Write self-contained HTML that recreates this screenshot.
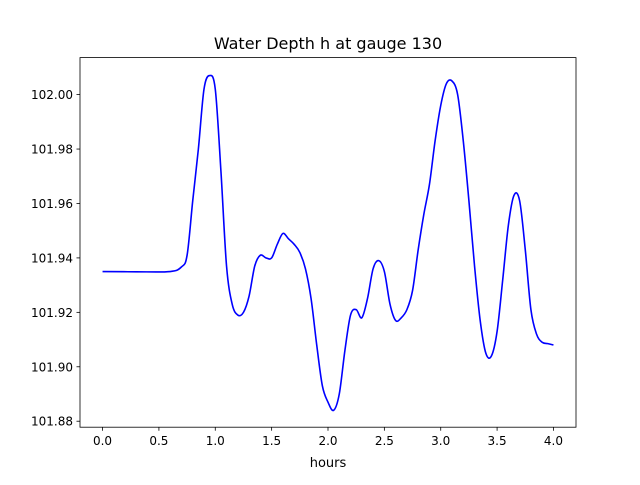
<!DOCTYPE html>
<html><head><meta charset="utf-8"><style>
body{margin:0;background:#fff}
svg text{font-family:"DejaVu Sans","Liberation Sans",sans-serif;fill:#000}
</style></head><body>
<svg id="chart" width="640" height="480">
<rect width="640" height="480" fill="#fff"/>
<text x="328" y="49" font-size="16" text-anchor="middle">Water Depth h at gauge 130</text>
<g id="plot"></g>
<rect x="80" y="57.6" width="496" height="369.6" fill="none" stroke="#000" stroke-width="0.8"/>
<text x="328" y="467" font-size="13" text-anchor="middle">hours</text>
</svg>
<script>
const times=[0,0.3,0.6,0.7,0.75,0.8,0.85,0.9,0.95,1.0,1.05,1.1,1.15,1.2,1.25,1.3,1.35,1.4,1.45,1.5,1.55,1.6,1.65,1.7,1.75,1.8,1.85,1.9,1.95,2.0,2.05,2.1,2.15,2.2,2.25,2.3,2.35,2.4,2.45,2.5,2.55,2.6,2.65,2.7,2.75,2.8,2.85,2.9,2.95,3.0,3.05,3.1,3.15,3.2,3.25,3.3,3.35,3.4,3.45,3.5,3.55,3.6,3.65,3.7,3.75,3.8,3.85,3.9,3.95,4.0];
const depth=[101.935,101.9349,101.935,101.9367,101.941,101.961,101.98,102.002,102.007,102.002,101.972,101.937,101.923,101.919,101.92,101.926,101.937,101.941,101.94,101.94,101.945,101.949,101.947,101.945,101.942,101.936,101.925,101.908,101.893,101.887,101.884,101.89,101.906,101.919,101.921,101.918,101.925,101.936,101.939,101.935,101.923,101.917,101.918,101.921,101.928,101.943,101.956,101.967,101.983,101.996,102.004,102.005,102.0,101.983,101.961,101.937,101.917,101.905,101.904,101.913,101.932,101.952,101.963,101.961,101.943,101.921,101.912,101.909,101.9085,101.908];
const xTicks=[0,0.5,1,1.5,2,2.5,3,3.5,4];
const xTickLabels=["0.0","0.5","1.0","1.5","2.0","2.5","3.0","3.5","4.0"];
const yTicks=[101.88,101.90,101.92,101.94,101.96,101.98,102.00];
const yTickLabels=["101.88","101.90","101.92","101.94","101.96","101.98","102.00"];
const NS="http://www.w3.org/2000/svg";
const X0=80,X1=576,Y0=57.6,Y1=427.2;
const xmin=-0.2,xmax=4.2,ymin=101.8778,ymax=102.0136;
const sx=v=>X0+(v-xmin)/(xmax-xmin)*(X1-X0);
const sy=v=>Y1-(v-ymin)/(ymax-ymin)*(Y1-Y0);
const g=document.getElementById('plot');
function mk(t,a){const e=document.createElementNS(NS,t);for(const k in a)e.setAttribute(k,a[k]);g.appendChild(e);return e;}
xTicks.forEach((v,i)=>{
  const l=mk('line',{x1:sx(v),x2:sx(v),y1:Y1,y2:Y1+3.5,stroke:'#000','stroke-width':0.8});
  
  
  const t=mk('text',{x:sx(v),y:Y1+18,'font-size':12,'text-anchor':'middle'});
  t.textContent=xTickLabels[i];
  
  
});
yTicks.forEach((v,i)=>{
  const l=mk('line',{x1:X0-3.5,x2:X0,y1:sy(v),y2:sy(v),stroke:'#000','stroke-width':0.8});
  
  
  const t=mk('text',{x:X0-7,y:sy(v)+4.5,'font-size':12,'text-anchor':'end'});
  t.textContent=yTickLabels[i];
  
  
});
const pts=times.map((t,i)=>[sx(t),sy(depth[i])]);
let d='M'+pts[0][0]+','+pts[0][1];
for(let i=0;i<pts.length-1;i++){
  const p0=pts[Math.max(i-1,0)],p1=pts[i],p2=pts[i+1],p3=pts[Math.min(i+2,pts.length-1)];
  const c1=[p1[0]+(p2[0]-p0[0])/6,p1[1]+(p2[1]-p0[1])/6];
  const c2=[p2[0]-(p3[0]-p1[0])/6,p2[1]-(p3[1]-p1[1])/6];
  d+=`C${c1[0]},${c1[1]} ${c2[0]},${c2[1]} ${p2[0]},${p2[1]}`;
}
const line=mk('path',{d:d,fill:'none',stroke:'#0000ff','stroke-width':1.6});


</script>
</body></html>
